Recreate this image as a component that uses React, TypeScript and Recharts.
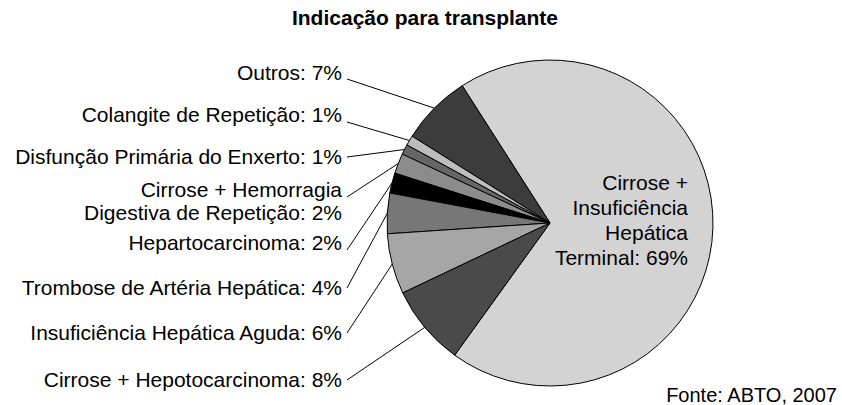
import React from 'react';
import { PieChart, Pie, Cell } from 'recharts';

// causes of liver transplant indication (ABTO 2007)
const CATEGORIES = [
  'Cirrose +\nInsuficiência\nHepática\nTerminal',
  'Outros',
  'Colangite de Repetição',
  'Disfunção Primária do Enxerto',
  'Cirrose + Hemorragia\nDigestiva de Repetição',
  'Hepartocarcinoma',
  'Trombose de Artéria Hepática',
  'Insuficiência Hepática Aguda',
  'Cirrose + Hepotocarcinoma',
];
const PERCENTS = [69, 7, 1, 1, 2, 2, 4, 6, 8];
const COLORS = ['#d3d3d3', '#3c3c3c', '#bdbdbd', '#666666', '#8c8c8c', '#000000', '#777777', '#a6a6a6', '#4a4a4a'];

const data = CATEGORIES.map((name, i) => ({ name, value: PERCENTS[i] }));

// label layout (left side, right aligned)
const LABEL_Y = [183, 73, 115, 157, 190, 243, 288, 333, 380];
const ANCHOR_Y = [0, 79, 122, 157, 197, 250, 288, 333, 380];
const LABEL_X = 342;
const FONT = '"Liberation Sans", Arial, Helvetica, sans-serif';
const RAD = Math.PI / 180;

const renderLabel = (props: any) => {
  const { cx, cy, midAngle, outerRadius, index, name, value } = props;
  const lines = `${name}: ${value}%`.split('\n');
  if (index === 0) {
    return (
      <text x={688} y={LABEL_Y[0]} textAnchor="end" fontSize={21} fontFamily={FONT} fill="#000">
        {lines.map((l: string, i: number) => (
          <tspan key={i} x={688} dy={i === 0 ? '0.35em' : 25}>{l}</tspan>
        ))}
      </text>
    );
  }
  const ex = cx + outerRadius * Math.cos(-midAngle * RAD);
  const ey = cy + outerRadius * Math.sin(-midAngle * RAD);
  return (
    <g>
      <line x1={LABEL_X + 5} y1={ANCHOR_Y[index]} x2={ex} y2={ey} stroke="#000" strokeWidth={1} />
      <text x={LABEL_X} y={LABEL_Y[index]} textAnchor="end" fontSize={21} fontFamily={FONT} fill="#000">
        {lines.map((l: string, i: number) => (
          <tspan key={i} x={LABEL_X} dy={i === 0 ? '0.35em' : 23}>{l}</tspan>
        ))}
      </text>
    </g>
  );
};

export default function App() {
  return (
    <div style={{ position: 'absolute', left: 0, top: 0, width: 842, height: 405, background: '#fff', fontFamily: FONT }}>
      <div style={{ position: 'absolute', left: 0, width: 850, top: 6, textAlign: 'center', fontWeight: 'bold', fontSize: 21, lineHeight: '24px' }}>
        Indicação para transplante
      </div>
      <PieChart width={842} height={405} margin={{ top: 0, right: 0, bottom: 0, left: 0 }}>
        <Pie
          data={data}
          dataKey="value"
          nameKey="name"
          cx={550}
          cy={223}
          outerRadius={163}
          startAngle={-125.8}
          endAngle={234.2}
          stroke="#000"
          strokeWidth={1}
          label={renderLabel}
          labelLine={false}
          isAnimationActive={false}
        >
          {data.map((_, i) => (
            <Cell key={`cell-${i}`} fill={COLORS[i]} />
          ))}
        </Pie>
      </PieChart>
      <div style={{ position: 'absolute', right: 5, top: 383, fontSize: 20, lineHeight: '24px' }}>
        Fonte: ABTO, 2007
      </div>
    </div>
  );
}
